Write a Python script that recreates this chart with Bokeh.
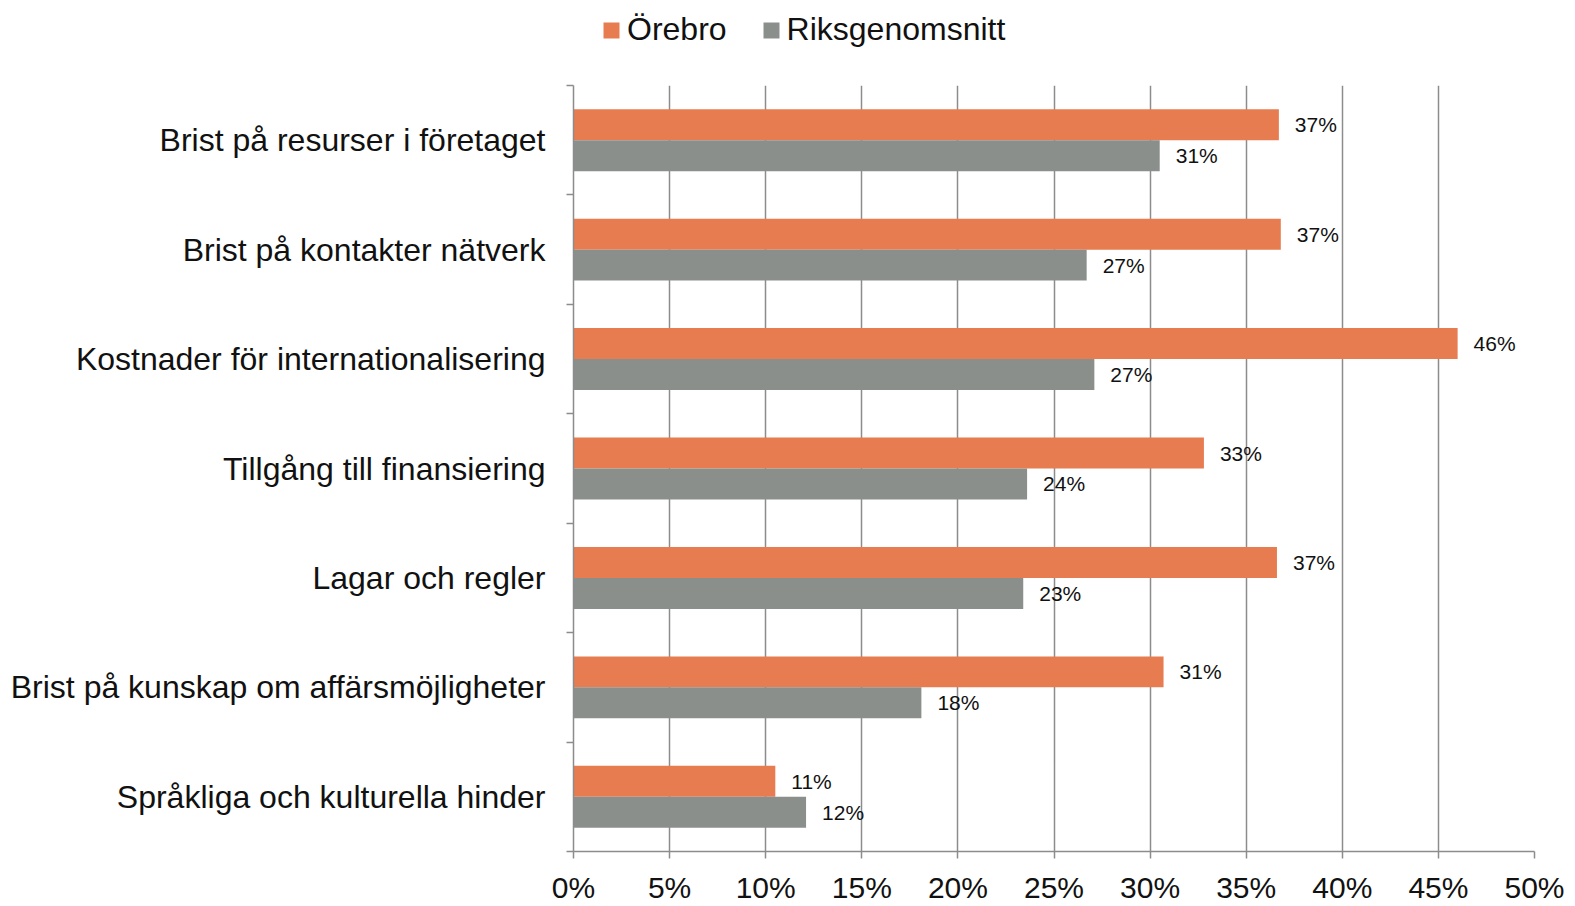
import math
from bokeh.plotting import figure
from bokeh.layouts import column
from bokeh.models import (ColumnDataSource, FixedTicker, PrintfTickFormatter,
                          Legend, LegendItem, Range1d)
from bokeh.core.properties import value
from bokeh.embed import file_html
from bokeh.resources import INLINE

categories = [
    "Brist på resurser i företaget",
    "Brist på kontakter nätverk",
    "Kostnader för internationalisering",
    "Tillgång till finansiering",
    "Lagar och regler",
    "Brist på kunskap om affärsmöjligheter",
    "Språkliga och kulturella hinder",
]
orebro = [36.7, 36.8, 46.0, 32.8, 36.6, 30.7, 10.5]
riks = [30.5, 26.7, 27.1, 23.6, 23.4, 18.1, 12.1]
series_names = ["Örebro", "Riksgenomsnitt"]
x_ticks = [0, 5, 10, 15, 20, 25, 30, 35, 40, 45, 50]

ORANGE = "#E67C50"
GREY = "#8A8F8C"
FONT = "Liberation Sans"
GRIDC = "#8C8C8C"

n = len(categories)
centers = [n - i - 0.5 for i in range(n)]
bar_h = 0.283
off = bar_h / 2


def lab(v):
    return f"{int(math.floor(v + 0.5))}%"


src_o = ColumnDataSource(dict(y=[c + off for c in centers], v=orebro,
                              t=[lab(v) for v in orebro]))
src_r = ColumnDataSource(dict(y=[c - off for c in centers], v=riks,
                              t=[lab(v) for v in riks]))

# ---- legend strip on top (its frame is aligned with the chart's frame) ----
lg = figure(width=1575, height=75, output_backend="svg", toolbar_location=None,
            x_range=Range1d(0, 1), y_range=Range1d(0, 1),
            x_axis_location=None, y_axis_location=None,
            min_border_left=0, min_border_right=0, min_border_top=0,
            min_border_bottom=0)
lg.outline_line_color = None
lg.xgrid.visible = False
lg.ygrid.visible = False
# legend-key renderers, kept outside the visible range of this strip
d_o = lg.hbar(y=[-10], right=[0.5], left=0, height=0.5, fill_color=ORANGE, line_color=None)
d_r = lg.hbar(y=[-10], right=[0.5], left=0, height=0.5, fill_color=GREY, line_color=None)
legend = Legend(items=[LegendItem(label=series_names[0], renderers=[d_o]),
                       LegendItem(label=series_names[1], renderers=[d_r])],
                orientation="horizontal", location=(28, 27),
                label_text_font=FONT, label_text_font_size="32px",
                label_text_color="#111111",
                glyph_width=20, glyph_height=20, label_standoff=6,
                spacing=34, padding=0, margin=0,
                border_line_color=None, background_fill_alpha=0)
lg.add_layout(legend, "center")

# ---- main chart ----
p = figure(width=1575, height=831, output_backend="svg", toolbar_location=None,
           x_range=Range1d(0, 50), y_range=Range1d(0, n),
           min_border_left=573, min_border_right=41, min_border_top=10,
           min_border_bottom=55)
p.outline_line_color = None
p.background_fill_color = "white"

p.hbar(y="y", right="v", left=0, height=bar_h, source=src_o,
       fill_color=ORANGE, line_color=None)
p.hbar(y="y", right="v", left=0, height=bar_h, source=src_r,
       fill_color=GREY, line_color=None)

for src in (src_o, src_r):
    p.text(x="v", y="y", text="t", source=src, x_offset=16,
           text_baseline="middle", text_align="left",
           text_font=value(FONT), text_font_size="21px", text_color="#111111")

p.xaxis.ticker = FixedTicker(ticks=x_ticks)
p.xaxis.formatter = PrintfTickFormatter(format="%d%%")
p.xaxis.major_label_text_font = FONT
p.xaxis.major_label_text_font_size = "30px"
p.xaxis.major_label_text_color = "#111111"
p.xaxis.axis_line_color = GRIDC
p.xaxis.axis_line_width = 1.5
p.xaxis.major_tick_line_color = GRIDC
p.xaxis.major_tick_line_width = 1.5
p.xaxis.major_tick_out = 7
p.xaxis.major_tick_in = 0
p.xaxis.minor_tick_line_color = None
p.xaxis.major_label_standoff = 12

p.yaxis.ticker = FixedTicker(ticks=centers, minor_ticks=list(range(n + 1)))
p.yaxis.major_label_overrides = {c: categories[i] for i, c in enumerate(centers)}
p.yaxis.major_label_text_font = FONT
p.yaxis.major_label_text_font_size = "32px"
p.yaxis.major_label_text_color = "#111111"
p.yaxis.axis_line_color = GRIDC
p.yaxis.axis_line_width = 1.5
p.yaxis.major_tick_line_color = None
p.yaxis.major_tick_out = 0
p.yaxis.major_tick_in = 0
p.yaxis.minor_tick_line_color = GRIDC
p.yaxis.minor_tick_line_width = 1.5
p.yaxis.minor_tick_out = 7
p.yaxis.minor_tick_in = 0
p.yaxis.major_label_standoff = 21

p.xgrid.ticker = FixedTicker(ticks=x_ticks)
p.xgrid.grid_line_color = GRIDC
p.xgrid.grid_line_width = 1.5
p.ygrid.grid_line_color = None

layout = column(lg, p, spacing=0)
open("out.html", "w").write(file_html(layout, INLINE))
